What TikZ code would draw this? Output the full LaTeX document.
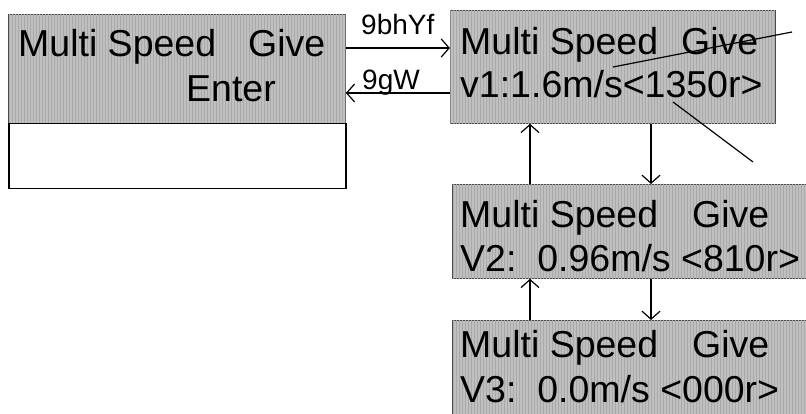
\documentclass[tikz,border=0pt]{standalone}
\usepackage{fontspec}
\setmainfont{Liberation Sans}
\usetikzlibrary{arrows.meta, positioning, patterns}
\definecolor{panelgray}{HTML}{C0C0C0}
\definecolor{stripegray}{HTML}{A9A9A9}

\begin{document}
\begin{tikzpicture}[
      x=1pt, y=-1pt,
      panel/.style={rectangle, draw=black!70, line width=0.8pt, fill=panelgray,
        postaction={pattern=vertical lines, pattern color=stripegray},
        anchor=north west, inner sep=0pt},
      lcd/.style={anchor=base west, inner sep=0pt, font=\fontsize{37.5}{40}\selectfont},
      tag/.style={anchor=base west, inner sep=0pt, font=\fontsize{28}{30}\selectfont},
      edge/.style={-{Straight Barb[length=8pt, width=18pt]}, line width=1.2pt},
      note/.style={line width=1.2pt}
    ]
    \useasboundingbox (0,0) rectangle (806,414);
    \clip (0,0) rectangle (806,414);
    % left screen
    \node[panel, minimum width=337pt, minimum height=109pt] (menu) at (8,14) {};
    \node[rectangle, draw=black, line width=1.5pt, anchor=north west,
      minimum width=337pt, minimum height=65pt, inner sep=0pt] (blank) at (8,123) {};
    \node[lcd] (menu1) at (18,57) {Multi Speed\hspace{32pt}Give};
    \node[lcd] (menu2) at (186,102) {Enter};
    % speed screens
    \node[panel, minimum width=325pt, minimum height=113pt] (sp1) at (450,10) {};
    \node[panel, minimum width=360pt, minimum height=94pt] (sp2) at (452,184) {};
    \node[panel, minimum width=360pt, minimum height=100pt] (sp3) at (452,320) {};
    \node[lcd] (sp1a) at (460,55) {Multi Speed\hspace{23pt}Give};
    \node[lcd] (sp1b) at (460,98) {v1:1.6m/s<1350r>};
    \node[lcd] (sp2a) at (460,228) {Multi Speed\hspace{34pt}Give};
    \node[lcd] (sp2b) at (460,272) {V2:\ \ 0.96m/s <810r>};
    \node[lcd] (sp3a) at (460,357) {Multi Speed\hspace{34pt}Give};
    \node[lcd] (sp3b) at (460,402) {V3:\ \ 0.0m/s <000r>};
    % arrows
    \draw[edge] (menu.east |- 0,48) -- (sp1.west |- 0,48);
    \draw[edge] (sp1.west |- 0,93) -- (menu.east |- 0,93);
    \node[tag] (enter) at (361,35) {9bhYf};
    \node[tag] (esc) at (362,90) {9gW};
    \draw[edge] (sp2.north -| 530,0) -- (sp1.south -| 530,0);
    \draw[edge] (sp1.south -| 651,0) -- (sp2.north -| 651,0);
    \draw[edge] (sp3.north -| 530,0) -- (sp2.south -| 530,0);
    \draw[edge] (sp2.south -| 651,0) -- (sp3.north -| 651,0);
    % callout lines
    \coordinate (c1) at (613,67);
    \coordinate (c2) at (792,32);
    \coordinate (c3) at (673,102);
    \coordinate (c4) at (753,162);
    \draw[note] (c1) -- (c2);
    \draw[note] (c3) -- (c4);
\end{tikzpicture}
\end{document}
